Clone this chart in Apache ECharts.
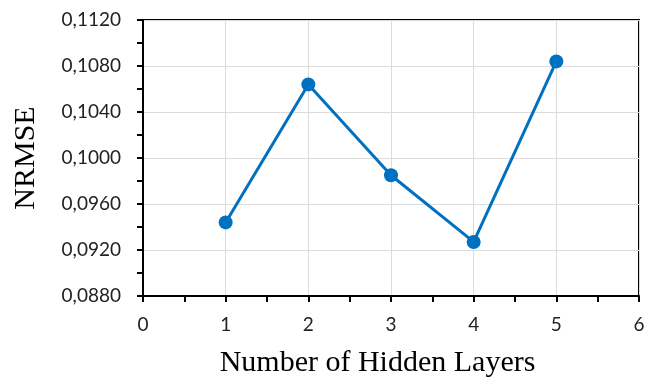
<!DOCTYPE html>
<html>
<head>
<meta charset="utf-8">
<script src="https://cdn.jsdelivr.net/npm/echarts@6/dist/echarts.min.js"></script>
<style>html,body{margin:0;padding:0;background:#fff;}#c{width:649px;height:383px;}</style>
</head>
<body>
<div id="c"></div>
<script>
const layers = [1, 2, 3, 4, 5];
const nrmse = [0.0944, 0.1064, 0.0985, 0.0927, 0.1084];
const xTitle = 'Number of Hidden Layers';
const yTitle = 'NRMSE';

const chart = echarts.init(document.getElementById('c'));
chart.setOption({
  animation: false,
  grid: {left: 143, right: 10, top: 20, bottom: 85, show: true, borderColor: '#000', borderWidth: 2, backgroundColor: 'transparent'},
  xAxis: {
    type: 'value', min: 0, max: 6, interval: 1,
    name: xTitle, nameLocation: 'middle', nameGap: 52,
    nameTextStyle: {fontFamily: 'Liberation Serif', fontSize: 30, color: '#000', padding: [0, 27, 0, 0]},
    axisLine: {lineStyle: {color: '#000', width: 2}},
    axisTick: {show: true, inside: false, length: 6, lineStyle: {color: '#000', width: 2}},
    minorTick: {show: true, splitNumber: 2, length: 6, lineStyle: {color: '#000', width: 2}},
    axisLabel: {fontFamily: 'Lato', fontSize: 19, color: '#222', margin: 19},
    splitLine: {show: true, lineStyle: {color: '#dcdcdc', width: 1}}
  },
  yAxis: {
    type: 'value', min: 0.088, max: 0.112, interval: 0.004,
    name: yTitle, nameLocation: 'middle', nameGap: 102, nameRotate: 90,
    nameTextStyle: {fontFamily: 'Liberation Serif', fontSize: 30, color: '#000'},
    axisLine: {show: true, lineStyle: {color: '#000', width: 2}},
    axisTick: {show: true, inside: false, length: 6, lineStyle: {color: '#000', width: 2}},
    minorTick: {show: true, splitNumber: 2, length: 6, lineStyle: {color: '#000', width: 2}},
    axisLabel: {fontFamily: 'Lato', fontSize: 19, color: '#222', margin: 22,
      formatter: v => v.toFixed(4).replace('.', ',')},
    splitLine: {show: true, lineStyle: {color: '#dcdcdc', width: 1}}
  },
  series: [{
    type: 'line',
    data: layers.map((x, i) => [x, nrmse[i]]),
    symbol: 'circle', symbolSize: 14,
    lineStyle: {color: '#0070c0', width: 3},
    itemStyle: {color: '#0070c0'}
  }]
});
</script>
</body>
</html>
